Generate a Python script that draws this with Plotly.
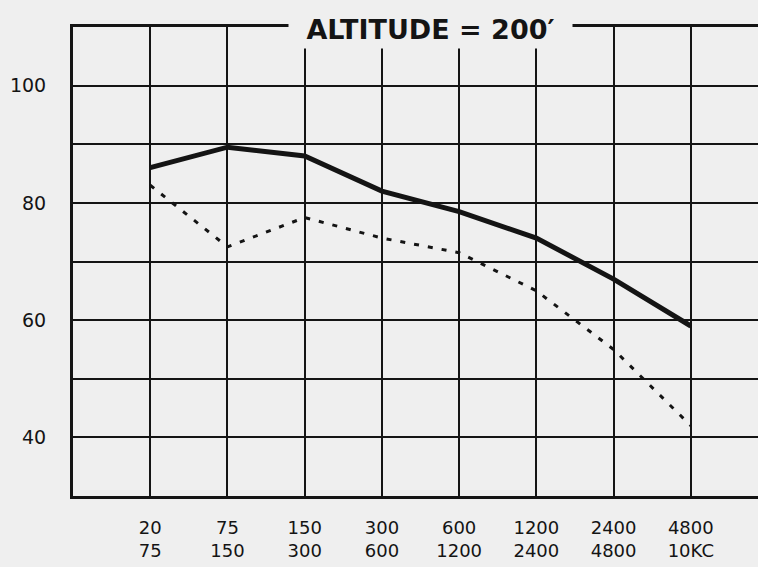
import plotly.graph_objects as go

# Frequency bands (two-line labels) and measured response at 200 ft altitude
band_low = ["20", "75", "150", "300", "600", "1200", "2400", "4800"]
band_high = ["75", "150", "300", "600", "1200", "2400", "4800", "10KC"]
band_pos = [1, 2, 3, 4, 5, 6, 7, 8]
solid_vals = [86, 89.5, 88, 82, 78.5, 74, 67, 59]
dotted_vals = [83, 72.5, 77.5, 74, 71.5, 65, 55, 42]
y_ticks = [30, 40, 50, 60, 70, 80, 90, 100, 110]
y_labels = ["", "40", "", "60", "", "80", "", "100", ""]

paper = "#efefef"
ink = "#141414"
font_fam = "DejaVu Sans"

fig = go.Figure()
fig.add_trace(go.Scatter(
    x=band_pos, y=dotted_vals, mode="lines",
    line=dict(color=ink, width=3, dash="5px,9px"),
    hoverinfo="skip",
))
fig.add_trace(go.Scatter(
    x=band_pos, y=solid_vals, mode="lines",
    line=dict(color=ink, width=5),
    hoverinfo="skip",
))

fig.update_layout(
    width=758, height=567,
    margin=dict(l=73, r=0, t=27, b=71),
    paper_bgcolor=paper, plot_bgcolor=paper,
    showlegend=False,
    font=dict(family=font_fam, color=ink, size=18),
)
fig.update_xaxes(
    range=[0, 8.87],
    tickvals=[0] + band_pos,
    ticktext=[""] + [f"{a}<br>{b}" for a, b in zip(band_low, band_high)],
    showgrid=True, gridcolor=ink, gridwidth=2,
    showline=True, linecolor=ink, linewidth=3, mirror=True,
    ticks="", zeroline=False,
    ticklabelstandoff=13,
    tickfont=dict(size=18, family=font_fam, color=ink),
)
fig.update_yaxes(
    range=[30, 110],
    tickvals=y_ticks, ticktext=y_labels,
    showgrid=True, gridcolor=ink, gridwidth=2,
    showline=True, linecolor=ink, linewidth=3,
    ticks="", zeroline=False,
    ticklabelstandoff=20,
    tickfont=dict(size=19, family=font_fam, color=ink),
)

# Title lettered into the top border of the grid
fig.add_annotation(
    xref="paper", yref="paper", x=(430.5 - 73) / 685, y=1,
    yshift=-2,
    text="<b>ALTITUDE = 200′</b>",
    showarrow=False,
    bgcolor=paper,
    width=281, height=36,
    font=dict(size=27, family=font_fam, color=ink),
    xanchor="center", yanchor="middle",
)

fig.write_html("out.html")
